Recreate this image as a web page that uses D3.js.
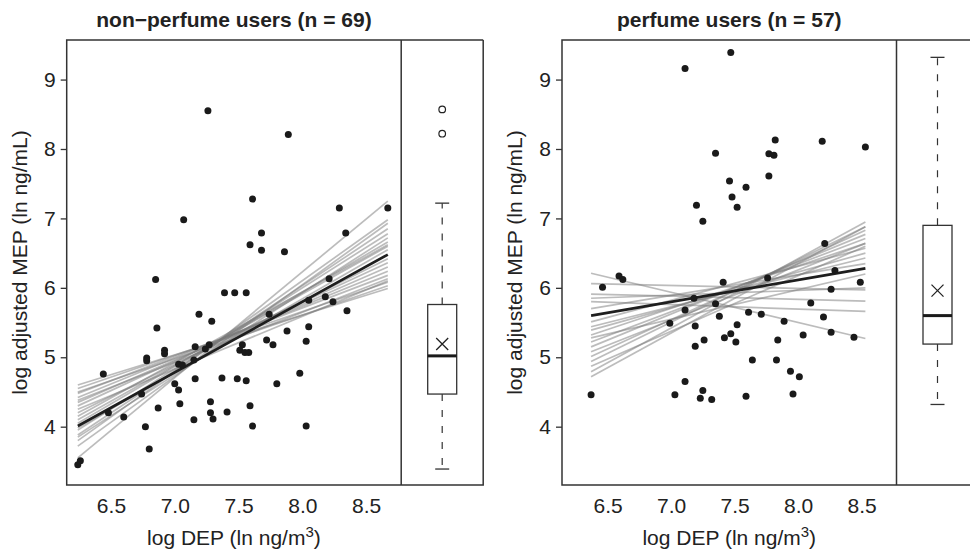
<!DOCTYPE html>
<html>
<head>
<meta charset="utf-8">
<script src="https://cdn.jsdelivr.net/npm/d3@7"></script>
<style>
  body { margin: 0; background: #fff; }
  svg text { font-family: "Liberation Sans", Arial, Helvetica, sans-serif; fill: #222; }
</style>
</head>
<body>
<script>
// ---- data ----
var yTicks = [4, 5, 6, 7, 8, 9];
var xTicks = [6.5, 7.0, 7.5, 8.0, 8.5];

// non-perfume users (n = 69)
var nonX = [7.26, 7.89, 7.61, 7.07, 8.29, 8.67, 7.68, 8.34, 7.59, 7.68, 7.86, 8.21, 6.85,
  7.39, 7.47, 7.56, 8.18, 8.05, 8.24, 8.35, 7.74, 7.19, 7.29, 6.86, 7.88, 8.05, 7.16,
  7.24, 7.27, 7.72, 7.77, 8.03, 7.53, 7.51, 7.55, 7.58, 6.92, 6.92, 6.78, 6.78, 7.15,
  7.03, 7.06, 6.44, 7.16, 7.37, 7.49, 7.56, 7.98, 7.80, 7.00, 7.03, 6.74, 7.04, 7.28,
  7.59, 6.48, 6.60, 6.87, 7.28, 7.41, 7.30, 7.15, 6.77, 7.61, 8.03, 6.80, 6.26, 6.24];
var nonY = [8.55, 8.21, 7.28, 6.98, 7.15, 7.15, 6.79, 6.79, 6.62, 6.54, 6.52, 6.13, 6.12,
  5.93, 5.93, 5.93, 5.87, 5.82, 5.80, 5.67, 5.62, 5.62, 5.52, 5.42, 5.38, 5.44, 5.15,
  5.12, 5.18, 5.25, 5.18, 5.23, 5.18, 5.10, 5.07, 5.07, 5.10, 5.05, 4.99, 4.95, 4.96,
  4.90, 4.89, 4.76, 4.69, 4.70, 4.69, 4.66, 4.77, 4.62, 4.62, 4.53, 4.47, 4.33, 4.36,
  4.30, 4.20, 4.14, 4.27, 4.20, 4.21, 4.11, 4.10, 4.00, 4.01, 4.01, 3.68, 3.51, 3.45];
var nonFit = [4.01, 6.48];
var nonBootStart = [3.55, 3.72, 3.80, 3.85, 3.88, 3.95, 3.98, 4.05, 4.10, 4.15, 4.20, 4.25,
  4.30, 4.35, 4.38, 4.42, 4.48, 4.50, 4.55, 4.60];
var nonBootEnd = [7.25, 6.93, 6.98, 6.72, 6.85, 6.78, 6.55, 6.66, 6.60, 6.62, 6.42, 6.10,
  6.36, 6.30, 6.13, 6.24, 6.18, 6.03, 6.08, 5.99];
var nonBox = [3.39, 4.47, 5.02, 5.76, 7.22];   // lower whisker, q1, median, q3, upper whisker
var nonMean = 5.19;
var nonOut = [8.57, 8.22];

// perfume users (n = 57)
var perX = [7.11, 7.47, 7.35, 7.82, 8.19, 8.53, 7.77, 7.81, 7.77, 7.46, 7.59, 7.48, 7.20,
  7.52, 7.25, 8.21, 8.29, 6.59, 6.62, 7.76, 6.46, 7.41, 8.49, 8.26, 7.18, 7.35, 8.10,
  7.11, 7.38, 7.61, 7.71, 8.20, 6.99, 7.19, 7.89, 7.52, 7.47, 7.42, 7.51, 7.26, 7.19,
  7.84, 8.04, 8.26, 8.44, 7.64, 7.83, 7.94, 8.01, 7.11, 6.37, 7.03, 7.25, 7.23, 7.32,
  7.59, 7.96];
var perY = [9.16, 9.39, 7.94, 8.13, 8.11, 8.03, 7.93, 7.91, 7.61, 7.54, 7.45, 7.31, 7.19,
  7.16, 6.96, 6.64, 6.25, 6.17, 6.12, 6.14, 6.01, 6.08, 6.08, 5.98, 5.85, 5.77, 5.78,
  5.68, 5.59, 5.65, 5.62, 5.58, 5.49, 5.45, 5.52, 5.47, 5.34, 5.28, 5.22, 5.25, 5.16,
  5.25, 5.32, 5.36, 5.29, 4.96, 4.96, 4.80, 4.72, 4.65, 4.46, 4.46, 4.52, 4.41, 4.39,
  4.44, 4.47];
var perFit = [5.60, 6.28];
var perBootStart = [6.21, 6.06, 5.91, 5.85, 5.80, 5.70, 5.51, 5.44, 5.39, 5.32, 5.28, 5.22,
  5.15, 5.08, 5.01, 4.94, 4.87, 4.79, 4.72];
var perBootEnd = [5.27, 5.97, 5.81, 6.00, 5.66, 6.35, 6.57, 6.43, 6.50, 6.64, 6.20, 6.71,
  6.77, 6.64, 6.83, 6.88, 6.60, 6.95, 6.88];
var perBox = [4.32, 5.19, 5.60, 6.90, 9.32];
var perMean = 5.96;
var perOut = [];

// ---- drawing ----
var svgWidth = 970, svgHeight = 551;
var plotTop = 40, plotBottom = 485;
var scatterW = 334.5, boxW = 82;
var fontSize = 21;

var svg = d3.select("body").append("svg")
  .attr("width", svgWidth)
  .attr("height", svgHeight);

function drawPanel(p) {
  var g = svg.append("g");
  var x = d3.scaleLinear().domain(p.xDomain).range([p.left, p.left + scatterW]);
  var y = d3.scaleLinear().domain([3.16, 9.57]).range([plotBottom, plotTop]);
  var xr = d3.extent(p.xs);

  // bootstrap fit lines
  g.selectAll("line.boot").data(p.bootStart).enter().append("line")
    .attr("class", "boot")
    .attr("x1", x(xr[0])).attr("x2", x(xr[1]))
    .attr("y1", function(d) { return y(d); })
    .attr("y2", function(d, i) { return y(p.bootEnd[i]); })
    .attr("stroke", "#7a7a7a")
    .attr("stroke-opacity", 0.5)
    .attr("stroke-width", 1.7);

  // main fit
  g.append("line")
    .attr("x1", x(xr[0])).attr("x2", x(xr[1]))
    .attr("y1", y(p.fit[0])).attr("y2", y(p.fit[1]))
    .attr("stroke", "#1e1e1e")
    .attr("stroke-width", 2.6);

  // points
  g.selectAll("circle.pt").data(p.xs).enter().append("circle")
    .attr("class", "pt")
    .attr("cx", function(d) { return x(d); })
    .attr("cy", function(d, i) { return y(p.ys[i]); })
    .attr("r", 3.5)
    .attr("fill", "#1a1a1a");

  // frame and separator
  var right = p.left + scatterW + boxW;
  g.append("path")
    .attr("d", "M" + right + "," + plotTop + "H" + p.left + "V" + plotBottom + "H" + right + "V" + plotTop)
    .attr("fill", "none").attr("stroke", "#333").attr("stroke-width", 1.5);
  g.append("line")
    .attr("x1", p.left + scatterW).attr("x2", p.left + scatterW)
    .attr("y1", plotTop).attr("y2", plotBottom)
    .attr("stroke", "#333").attr("stroke-width", 1.5);

  // box plot
  var cx = p.left + scatterW + boxW / 2;
  var hw = 14.5, sw = 7;
  var b = p.box;
  var bs = "#333";
  g.append("line").attr("x1", cx).attr("x2", cx).attr("y1", y(b[3])).attr("y2", y(b[4]))
    .attr("stroke", bs).attr("stroke-width", 1.2).attr("stroke-dasharray", "7,9");
  g.append("line").attr("x1", cx).attr("x2", cx).attr("y1", y(b[1])).attr("y2", y(b[0]))
    .attr("stroke", bs).attr("stroke-width", 1.2).attr("stroke-dasharray", "7,9");
  [b[0], b[4]].forEach(function(v) {
    g.append("line").attr("x1", cx - sw).attr("x2", cx + sw).attr("y1", y(v)).attr("y2", y(v))
      .attr("stroke", bs).attr("stroke-width", 1.3);
  });
  g.append("rect")
    .attr("x", cx - hw).attr("width", hw * 2)
    .attr("y", y(b[3])).attr("height", y(b[1]) - y(b[3]))
    .attr("fill", "#fff").attr("stroke", bs).attr("stroke-width", 1.3);
  g.append("line").attr("x1", cx - hw).attr("x2", cx + hw).attr("y1", y(b[2])).attr("y2", y(b[2]))
    .attr("stroke", "#1a1a1a").attr("stroke-width", 3);
  var my = y(p.mean), m = 6;
  g.append("path")
    .attr("d", "M" + (cx - m) + "," + (my - m) + "L" + (cx + m) + "," + (my + m) +
               "M" + (cx + m) + "," + (my - m) + "L" + (cx - m) + "," + (my + m))
    .attr("stroke", "#222").attr("stroke-width", 1.3);
  g.selectAll("circle.out").data(p.outliers).enter().append("circle")
    .attr("class", "out")
    .attr("cx", cx).attr("cy", function(d) { return y(d); })
    .attr("r", 3.3).attr("fill", "none").attr("stroke", "#222").attr("stroke-width", 1.2);

  // axes
  var ya = g.append("g")
    .attr("transform", "translate(" + p.left + ",0)")
    .call(d3.axisLeft(y).tickValues(yTicks).tickSize(6).tickSizeOuter(0).tickPadding(5).tickFormat(d3.format("d")));
  ya.select(".domain").remove();
  ya.selectAll(".tick line").attr("stroke", "#333").attr("stroke-width", 1.3);
  ya.selectAll("text").attr("font-size", fontSize).attr("font-family", null).attr("fill", "#222");

  var xa = g.append("g")
    .attr("transform", "translate(0," + plotBottom + ")")
    .call(d3.axisBottom(x).tickValues(xTicks).tickSize(0).tickFormat(d3.format(".1f")));
  xa.select(".domain").remove();
  xa.selectAll("text").attr("font-size", fontSize).attr("font-family", null).attr("fill", "#222")
    .attr("y", 28).attr("dy", 0);

  // labels
  g.append("text")
    .attr("x", p.left + scatterW / 2).attr("y", 27)
    .attr("text-anchor", "middle")
    .attr("font-size", fontSize).attr("font-weight", "bold")
    .text(p.title);

  var xl = g.append("text")
    .attr("x", p.left + scatterW / 2).attr("y", 545)
    .attr("text-anchor", "middle")
    .attr("font-size", fontSize);
  xl.append("tspan").text("log DEP (ln ng/m");
  xl.append("tspan").attr("baseline-shift", "super").attr("font-size", 15).text("3");
  xl.append("tspan").text(")");

  g.append("text")
    .attr("transform", "translate(" + (p.left - 39.7) + "," + ((plotTop + plotBottom) / 2) + ") rotate(-90)")
    .attr("text-anchor", "middle")
    .attr("font-size", fontSize)
    .text("log adjusted MEP (ln ng/mL)");
}

drawPanel({
  left: 66.7, xDomain: [6.153, 8.775], title: "non\u2212perfume users (n = 69)",
  xs: nonX, ys: nonY, fit: nonFit, bootStart: nonBootStart, bootEnd: nonBootEnd,
  box: nonBox, mean: nonMean, outliers: nonOut
});
drawPanel({
  left: 562, xDomain: [6.141, 8.775], title: "perfume users (n = 57)",
  xs: perX, ys: perY, fit: perFit, bootStart: perBootStart, bootEnd: perBootEnd,
  box: perBox, mean: perMean, outliers: perOut
});
</script>
</body>
</html>
